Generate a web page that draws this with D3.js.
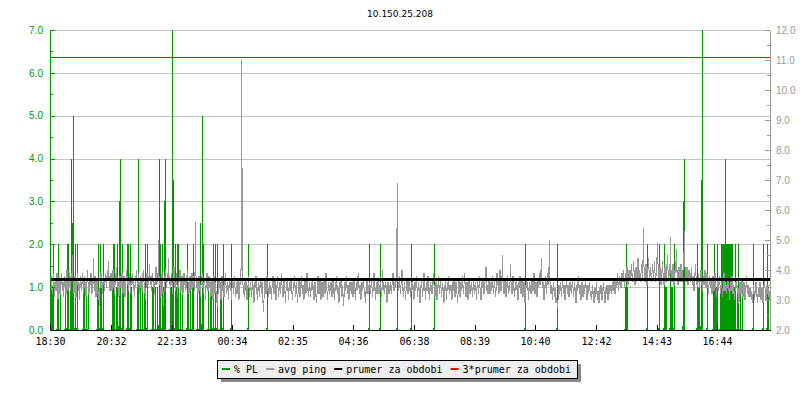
<!DOCTYPE html>
<html>
<head>
<meta charset="utf-8">
<script src="https://cdn.jsdelivr.net/npm/d3@7"></script>
<style>
  body { margin: 0; background: #fff; }
  svg { display: block; font-family: 'DejaVu Sans Mono', monospace; font-size: 10px; }
</style>
</head>
<body>
<div class="canvas"></div>
<script>
const title = '10.150.25.208';
const startTime = new Date(2020, 0, 1, 18, 30);

const timeLabels = ['18:30', '20:32', '22:33', '00:34', '02:35', '04:36',
  '06:38', '08:39', '10:40', '12:42', '14:43', '16:44'];

// avg ping (ms), one sample per minute
const pingValues = [
  3.6,3.3,3.8,3.5,3.2,3.4,3.9,3.6,3.1,3.5,3.7,3.3,3.6,3.9,3.4,3.0,3.5,3.8,3.6,3.2,
  3.4,3.7,3.9,3.5,3.3,3.6,3.1,3.4,3.8,3.5,3.7,3.2,3.5,4.0,3.6,3.3,3.7,3.4,3.9,3.5,
  3.3,3.8,3.6,3.9,4.5,3.7,3.4,3.2,3.6,3.8,3.5,3.1,3.4,3.7,3.9,3.5,3.3,3.6,3.0,3.4,
  3.8,3.6,3.3,3.5,3.9,3.7,3.2,3.5,3.8,3.4,3.6,3.1,3.3,3.7,4.0,3.6,3.4,3.2,3.7,3.5,
  3.6,3.9,3.4,3.2,3.7,3.5,4.4,3.6,3.3,3.8,3.5,3.1,3.4,3.7,3.5,3.2,3.0,3.3,2.8,3.4,
  3.6,3.9,3.7,3.4,3.2,3.6,3.8,3.5,3.3,3.7,3.9,3.6,3.4,3.8,4.0,3.7,4.3,3.8,3.5,3.3,
  3.6,3.9,3.5,3.3,3.7,4.0,3.8,3.4,3.2,3.6,3.5,3.9,4.1,3.7,3.4,3.6,3.3,3.1,3.5,3.8,
  3.6,3.4,3.7,3.9,3.5,3.2,3.6,3.8,3.4,3.1,3.3,3.7,4.0,3.8,3.5,3.6,3.3,3.7,3.9,3.5,
  3.2,3.6,3.8,3.5,3.9,3.7,3.3,3.5,3.1,3.4,3.8,3.6,4.0,3.7,3.4,3.6,3.9,3.5,3.2,3.6,
  3.8,3.4,3.7,3.3,3.5,3.9,4.0,3.6,3.4,3.2,3.0,3.4,3.7,3.9,3.6,3.5,3.8,3.6,4.2,3.7,
  3.5,3.8,3.3,3.6,3.9,3.7,3.4,3.6,3.2,3.5,3.8,4.1,3.7,3.5,3.9,3.6,5.0,3.8,3.5,3.7,
  3.4,3.1,3.6,3.9,3.5,3.2,2.8,3.3,3.6,3.8,4.0,3.6,3.4,3.7,3.9,3.6,4.4,3.8,3.5,3.7,
  3.4,3.7,3.9,3.5,3.2,3.6,3.8,4.1,3.7,3.4,3.3,3.6,3.9,3.5,3.1,3.4,3.7,3.6,3.9,4.0,
  3.6,3.3,3.5,3.8,3.4,3.2,3.6,3.9,3.7,3.5,3.3,3.7,3.4,3.8,4.0,3.6,3.5,3.2,3.6,3.8,
  3.5,3.3,3.7,3.9,3.6,3.4,3.8,3.5,3.3,3.9,5.6,3.8,3.6,3.4,3.7,3.2,3.5,3.8,3.6,3.3,
  3.1,3.5,3.8,3.6,3.9,3.4,3.2,3.6,3.7,3.5,3.0,3.4,3.7,3.9,3.5,3.3,3.6,3.8,3.4,3.6,
  3.4,3.1,3.5,3.7,3.3,3.0,3.4,3.8,3.5,3.2,3.6,3.3,2.9,3.1,2.8,3.2,3.5,3.7,3.4,3.6,
  3.3,3.0,3.4,3.8,3.6,3.3,3.5,3.1,3.4,3.7,3.9,3.5,3.2,3.4,3.6,3.3,3.0,3.5,3.7,3.4,
  3.6,3.3,3.0,3.4,3.7,3.5,3.2,3.6,3.8,3.4,3.1,3.3,3.6,3.2,3.5,3.7,3.3,3.0,3.4,3.6,
  3.5,3.8,11.0,4.0,7.4,3.5,3.2,3.4,3.1,3.6,3.3,3.7,3.4,3.0,3.2,3.5,3.8,3.4,3.1,3.3,
  3.6,3.4,3.1,3.3,3.7,3.5,3.2,2.9,3.3,3.6,3.4,3.8,3.5,3.2,3.0,3.4,3.6,3.3,3.1,3.5,
  3.7,3.4,3.2,3.6,3.3,2.9,2.6,3.0,3.4,3.7,3.5,3.2,3.4,3.8,3.6,3.3,3.1,3.4,3.6,3.2,
  3.5,3.3,3.0,3.4,3.6,3.8,3.4,3.2,3.5,3.7,3.3,3.0,3.2,3.5,3.8,3.4,3.1,3.3,3.6,3.4,
  3.2,3.6,3.9,3.5,3.3,3.1,3.4,3.7,3.5,3.2,2.9,3.3,3.6,3.4,3.7,3.3,3.0,3.4,3.6,3.3,
  3.4,3.7,3.5,3.2,3.0,3.3,3.6,3.4,3.8,3.5,3.1,3.3,3.6,3.2,2.9,3.2,3.5,3.7,3.4,3.1,
  3.3,3.6,3.8,3.4,3.2,3.5,3.3,3.0,3.4,3.7,3.5,3.2,3.6,3.9,3.5,3.3,3.1,3.4,3.6,3.3,
  3.1,3.4,3.6,3.3,3.7,3.5,3.2,3.0,3.3,3.6,3.4,3.1,2.9,3.2,3.5,3.8,3.4,3.2,3.5,3.7,
  3.3,3.0,3.4,3.6,3.3,3.1,3.4,3.7,3.5,3.2,3.6,3.9,3.5,3.3,3.0,3.3,3.6,3.4,3.2,3.5,
  3.3,3.6,3.4,3.1,3.3,3.7,3.5,3.2,3.0,3.4,3.6,3.3,3.8,3.5,3.2,3.4,3.1,2.9,3.3,3.6,
  3.4,3.7,3.3,3.1,3.5,3.2,2.8,3.1,3.4,3.6,3.3,3.5,3.8,3.4,3.2,3.5,3.3,3.0,3.4,3.6,
  3.3,3.5,3.2,3.6,3.4,3.1,3.3,3.7,3.5,3.2,3.0,3.4,3.6,3.3,3.8,3.5,3.9,3.4,3.2,3.5,
  3.3,3.0,3.4,3.6,3.3,3.5,3.7,3.4,3.1,3.3,2.9,3.2,3.5,3.7,3.4,3.2,3.5,3.3,3.6,3.4,
  3.2,3.5,3.7,3.4,3.1,3.3,3.6,3.9,3.5,3.3,3.0,3.4,3.6,3.2,3.5,3.7,3.4,3.2,3.5,3.3,
  3.6,3.4,3.1,3.3,4.0,3.6,3.3,3.5,3.2,3.4,3.7,3.5,3.1,2.9,3.3,3.6,3.4,3.2,3.5,3.3,
  3.6,3.4,3.2,3.5,3.7,3.9,3.5,3.3,3.6,3.4,3.7,3.5,5.4,3.8,6.9,3.6,3.3,3.5,3.8,3.4,
  3.2,3.5,3.7,4.0,3.6,3.3,3.1,3.4,3.6,3.3,3.0,3.3,3.5,3.7,3.4,3.2,3.5,3.7,3.4,3.3,
  3.1,3.4,3.6,3.3,3.7,3.5,3.2,3.0,3.4,3.6,3.3,3.5,3.8,3.4,3.1,3.3,3.6,3.4,3.2,2.9,
  3.2,3.5,3.7,3.4,3.1,3.3,3.6,3.9,3.5,3.3,3.0,3.4,3.6,3.3,3.5,3.8,3.4,3.2,3.0,3.4,
  3.6,3.3,3.5,3.2,3.4,3.7,3.9,3.5,3.3,3.1,3.4,3.6,3.3,3.0,3.2,3.5,3.8,3.4,3.2,3.5,
  3.7,3.4,3.1,3.3,3.6,3.4,3.2,2.9,3.3,3.5,3.7,3.3,3.0,3.4,3.6,3.3,3.8,3.5,3.2,3.4,
  3.3,3.5,3.2,3.0,3.4,3.6,3.3,3.7,3.4,3.1,3.3,3.6,3.4,3.2,2.9,3.2,3.5,3.7,3.4,3.1,
  3.4,3.6,3.3,3.5,3.8,3.4,3.2,3.5,3.9,3.6,3.3,3.1,3.4,3.6,3.3,3.0,3.4,3.7,3.5,3.2,
  3.5,3.3,3.6,3.4,3.1,3.3,3.7,3.5,3.2,3.4,3.6,3.3,3.0,3.4,3.7,3.4,3.2,3.5,3.8,3.4,
  3.2,3.0,3.3,3.6,3.4,3.7,3.5,3.2,3.4,3.6,3.9,4.1,3.6,3.3,3.5,3.2,3.4,3.7,3.4,3.2,
  3.4,3.6,3.3,3.5,3.8,3.4,3.2,3.5,3.7,3.4,3.1,3.3,3.6,3.9,3.5,3.7,3.4,3.2,3.6,4.0,
  3.6,3.3,3.5,3.8,4.5,3.7,3.4,3.2,3.5,3.7,3.4,3.1,3.3,3.6,3.8,3.4,3.2,3.5,3.3,3.6,
  4.2,3.6,3.4,3.2,3.5,3.8,3.5,3.3,3.1,3.4,3.6,3.3,3.7,3.5,3.2,3.0,3.3,3.6,3.4,3.8,
  3.5,3.2,3.4,3.7,3.4,3.1,3.3,3.6,3.3,2.9,3.2,3.5,3.7,3.4,3.6,3.3,3.0,3.4,3.6,3.3,
  3.5,3.2,3.4,3.7,3.5,3.3,3.6,3.9,3.5,3.2,3.4,3.6,3.3,3.1,3.4,3.7,3.4,3.6,3.9,3.5,
  3.7,4.0,4.4,3.7,3.4,3.6,3.3,3.0,3.2,3.5,3.8,3.4,3.2,3.6,3.9,3.5,3.7,4.1,5.0,3.6,
  3.4,3.2,3.5,3.3,3.0,3.4,3.6,3.3,3.1,3.4,3.2,2.9,3.1,3.0,2.7,3.0,3.3,3.5,3.2,3.4,
  3.6,3.3,3.1,3.4,3.7,3.4,3.2,3.5,3.3,3.0,3.2,3.5,3.7,3.4,3.2,3.5,3.3,3.1,3.4,3.6,
  3.3,3.5,3.2,3.4,3.7,3.4,3.1,3.3,3.6,3.4,3.2,2.9,3.2,3.5,3.3,3.6,3.8,3.4,3.2,3.5,
  3.3,3.0,3.3,3.6,3.4,3.1,3.3,3.5,3.2,3.4,3.7,3.5,3.2,3.0,3.3,3.5,3.2,3.4,3.6,3.3,
  3.1,3.3,3.0,3.2,3.5,3.3,3.0,2.9,3.2,3.4,3.1,3.3,3.6,3.2,3.0,3.3,3.1,2.9,3.2,3.4,
  3.2,3.5,3.3,3.0,3.2,3.4,3.6,3.3,3.1,2.9,3.1,3.4,3.2,3.5,3.3,3.0,3.3,3.5,3.2,3.4,
  3.3,3.5,3.2,3.4,3.6,3.3,3.5,3.7,3.4,3.2,3.5,3.7,3.4,3.6,3.9,3.5,3.3,3.6,3.8,3.5,
  3.7,3.4,3.6,3.9,3.6,3.8,4.0,3.6,3.4,3.7,3.9,3.6,3.8,4.1,3.7,3.5,3.8,4.0,3.7,3.9,
  3.7,4.0,4.2,3.8,3.6,3.9,4.3,4.0,3.7,3.5,3.8,4.1,3.9,3.6,4.0,4.4,3.9,3.7,4.0,3.8,
  3.6,3.9,4.2,4.0,3.7,4.3,5.4,4.1,3.8,3.6,3.9,4.2,3.8,3.5,3.8,4.1,4.4,4.0,3.7,3.9,
  4.1,3.8,3.6,3.9,4.2,3.9,3.7,4.0,4.3,3.9,3.6,3.8,4.1,4.4,4.9,4.2,3.8,3.6,3.9,4.1,
  3.8,3.5,3.7,4.0,4.3,3.9,3.7,3.5,3.8,4.1,3.9,3.6,3.8,4.2,4.5,4.0,3.7,3.9,4.2,3.8,
  5.1,4.0,3.8,3.6,3.9,4.2,3.8,3.5,3.7,4.0,4.3,3.9,4.7,4.0,3.7,3.5,3.8,4.1,3.8,3.6,
  3.9,4.2,3.9,3.6,3.8,4.0,4.3,4.6,5.3,4.1,3.8,3.6,3.9,4.1,3.7,3.5,3.8,4.0,3.7,3.9,
  3.6,3.9,4.1,3.7,3.5,3.8,3.6,3.3,3.6,3.9,4.2,3.8,3.5,3.7,3.4,3.6,3.9,3.7,3.4,3.6,
  3.8,4.0,3.7,3.5,3.3,3.6,3.8,3.5,3.7,4.0,3.6,3.4,3.6,3.9,3.7,3.4,3.2,3.5,3.8,3.6,
  3.4,3.7,3.5,3.2,3.5,3.8,3.6,3.3,3.5,3.9,3.6,3.4,3.1,3.4,3.7,3.5,3.3,3.6,3.8,3.5,
  3.2,3.4,3.7,3.4,3.1,3.3,3.6,3.9,3.5,3.3,3.6,3.4,3.2,3.5,3.7,3.4,3.6,3.3,3.0,3.4,
  3.6,3.3,3.5,3.8,3.4,3.2,3.5,3.3,3.0,3.3,3.6,3.4,3.7,3.5,3.2,3.4,3.1,2.9,3.3,3.6,
  3.4,3.2,3.5,3.7,3.4,3.1,3.3,3.6,3.3,3.0,3.2,3.5,3.8,3.4,3.2,3.5,3.3,3.1,3.4,3.2,
  3.4,3.1,3.3,3.0,2.9,3.2,3.5,3.3,3.0,3.2,3.4,3.6,3.3,3.1,2.9,3.2,3.4,3.1,3.3,3.6,
  3.3,3.0,3.2,3.4,3.1,2.9,3.2,3.5,3.7,3.4,3.2,3.0,3.3,3.5,3.2,3.4,3.1,3.3,3.0,3.2
];

// packet loss, polled every 2 minutes: [poll index, % PL]; all other polls are 0
const plEvents = [
  [1, 1], [2, 1], [3, 2], [7, 1], [8, 2], [10, 1],
  [15, 1], [17, 2], [18, 2], [20, 1], [21, 4], [22, 2.5], [23, 5], [25, 2], [27, 2],
  [33, 1], [34, 1], [36, 1], [38, 1],
  [47, 1], [48, 2], [50, 2], [51, 1], [53, 2],
  [62, 1], [63, 2], [64, 2], [66, 1], [67, 2], [69, 3], [70, 4], [72, 2], [73, 1],
  [77, 2], [78, 2], [80, 2], [81, 1],
  [87, 1], [88, 4], [90, 1], [92, 1], [94, 1], [95, 2], [97, 2],
  [102, 1], [103, 1], [105, 1], [107, 1],
  [109, 4], [110, 2], [112, 2], [113, 1], [114, 3], [115, 4],
  [120, 1], [121, 1], [122, 7], [123, 3.5], [125, 2], [126, 1], [127, 2], [128, 2], [130, 1], [132, 1],
  [137, 2], [138, 1], [140, 1], [142, 1], [143, 2],
  [147, 1], [149, 1], [150, 2.5], [152, 5], [153, 2],
  [158, 1], [160, 1], [161, 1], [163, 2], [165, 2], [167, 2],
  [170, 1], [171, 1], [173, 2],
  [181, 2], [198, 2], [217, 2],
  [319, 2], [330, 2], [347, 2], [361, 2], [384, 2], [475, 2], [507, 2],
  [575, 1], [576, 2], [577, 1], [597, 2], [609, 2],
  [614, 2], [615, 1], [616, 1], [620, 2], [621, 1], [622, 1], [624, 2],
  [633, 3], [634, 4],
  [647, 2], [648, 1], [649, 1], [651, 3.5], [652, 7], [657, 2],
  [663, 1], [664, 2], [665, 1], [666, 1], [667, 2],
  [670, 1], [671, 2], [672, 2], [673, 2], [674, 2], [675, 4], [676, 2], [677, 2], [678, 2],
  [679, 2], [680, 2], [681, 2], [682, 2], [683, 1], [684, 1], [685, 2],
  [687, 1], [688, 2], [690, 1], [692, 1],
  [703, 2], [713, 2], [717, 2], [718, 1]
];
const plPollMinutes = 2;

const avgPing = 3.69;
const legendNames = ['% PL', 'avg ping', 'prumer za obdobi', '3*prumer za obdobi'];

const colors = { pl: '#009900', ping: '#999999', avg: '#000000', avg3: '#ff0000', grid: '#c4c4c4' };
const legendColors = [colors.pl, colors.ping, colors.avg, colors.avg3];
const plot = { left: 50, right: 770, top: 30, bottom: 330 };

const svg = d3
  .select('.canvas')
  .append('svg')
  .attr('width', 800)
  .attr('height', 400);

const totalMinutes = pingValues.length;
const x = d3
  .scaleTime()
  .domain([startTime, d3.timeMinute.offset(startTime, totalMinutes)])
  .range([plot.left, plot.right]);
const yPL = d3.scaleLinear().domain([0, 7]).range([plot.bottom, plot.top]);
const yPing = d3.scaleLinear().domain([2, 12]).range([plot.bottom, plot.top]);

const labelDate = s => {
  const [h, m] = s.split(':').map(Number);
  const d = new Date(startTime);
  d.setHours(h, m, 0, 0);
  if (d < startTime) d.setDate(d.getDate() + 1);
  return d;
};
const tickDates = timeLabels.map(labelDate);

// title
svg
  .append('text')
  .attr('x', 400)
  .attr('y', 17)
  .attr('text-anchor', 'middle')
  .style('font-family', "'DejaVu Sans', sans-serif")
  .style('font-size', '9px')
  .text(title);

// grid
svg
  .append('g')
  .selectAll('line')
  .data(d3.range(1, 8))
  .join('line')
  .attr('x1', plot.left)
  .attr('x2', plot.right)
  .attr('y1', d => Math.round(yPL(d)) + 0.5)
  .attr('y2', d => Math.round(yPL(d)) + 0.5)
  .attr('stroke', colors.grid)
  .attr('shape-rendering', 'crispEdges');

// packet loss on the same 1 minute grid as ping
const plSeries = d3.range(totalMinutes + 1).map(() => 0);
plEvents.forEach(([i, v]) => (plSeries[i * plPollMinutes] = v));

const px = m => x(d3.timeMinute.offset(startTime, m)) + 0.5;

svg
  .append('path')
  .datum(plSeries)
  .attr('fill', 'none')
  .attr('stroke', colors.pl)
  .attr('stroke-width', 1)
  .attr('shape-rendering', 'crispEdges')
  .attr('d', d3.line().x((d, m) => px(m)).y(d => yPL(d)));

svg
  .append('path')
  .datum(pingValues)
  .attr('fill', 'none')
  .attr('stroke', colors.ping)
  .attr('stroke-width', 1)
  .attr('shape-rendering', 'crispEdges')
  .attr('d', d3.line().x((d, m) => px(m)).y(d => yPing(d)));

// average lines
svg
  .append('line')
  .attr('x1', plot.left)
  .attr('x2', plot.right)
  .attr('y1', yPing(avgPing))
  .attr('y2', yPing(avgPing))
  .attr('stroke', colors.avg)
  .attr('stroke-width', 3)
  .attr('shape-rendering', 'crispEdges');

svg
  .append('line')
  .attr('x1', plot.left)
  .attr('x2', plot.right)
  .attr('y1', Math.floor(yPing(3 * avgPing)) + 0.5)
  .attr('y2', Math.floor(yPing(3 * avgPing)) + 0.5)
  .attr('stroke', colors.avg3)
  .attr('shape-rendering', 'crispEdges');

// axes
const fmt = d3.format('.1f');
const styleAxis = (g, color) => {
  g.selectAll('path, line').attr('stroke', color).attr('shape-rendering', 'crispEdges');
  g.selectAll('text').attr('fill', color);
  g.attr('font-family', "'DejaVu Sans Mono', monospace").attr('font-size', 10);
};

const leftAxis = svg.append('g').attr('transform', `translate(${plot.left},0)`);
leftAxis.call(d3.axisLeft(yPL).tickValues(d3.range(0.5, 7, 1)).tickSize(-3).tickSizeOuter(0).tickFormat(''));
leftAxis.call(g => g.select('.domain').remove());
leftAxis
  .append('g')
  .call(d3.axisLeft(yPL).tickValues(d3.range(0, 8)).tickSize(-5).tickSizeOuter(0).tickPadding(7).tickFormat(fmt));
styleAxis(leftAxis, colors.pl);

const rightAxis = svg.append('g').attr('transform', `translate(${plot.right},0)`);
rightAxis.call(d3.axisRight(yPing).tickValues(d3.range(2.5, 12, 1)).tickSize(-3).tickSizeOuter(0).tickFormat(''));
rightAxis.call(g => g.select('.domain').remove());
rightAxis
  .append('g')
  .call(d3.axisRight(yPing).tickValues(d3.range(2, 13)).tickSize(-5).tickSizeOuter(0).tickPadding(6).tickFormat(fmt));
styleAxis(rightAxis, colors.ping);

const bottomAxis = svg
  .append('g')
  .attr('transform', `translate(0,${plot.bottom})`)
  .call(
    d3.axisBottom(x).tickValues(tickDates).tickSize(-5).tickSizeOuter(0).tickPadding(8).tickFormat(d3.timeFormat('%H:%M'))
  );
styleAxis(bottomAxis, '#000');

// legend
const legendGroup = svg.append('g');
const legendBox = legendGroup.append('g');
const items = legendGroup.append('g');
const markerW = 8;
const textOffset = 12;
const itemGap = 8;
let cursor = 0;
legendNames.forEach((name, k) => {
  const item = items.append('g').attr('transform', `translate(${cursor},0)`);
  item.append('rect').attr('x', 0).attr('y', -1).attr('width', markerW).attr('height', 2).attr('fill', legendColors[k]);
  const t = item
    .append('text')
    .attr('x', textOffset)
    .attr('y', 4)
    .attr('font-family', "'DejaVu Sans Mono', monospace")
    .attr('font-size', 10)
    .text(name);
  cursor += textOffset + t.node().getComputedTextLength() + itemGap;
});
const boxW = Math.round(cursor - itemGap + 11);
const boxX = Math.round(397 - boxW / 2);
items.attr('transform', `translate(${boxX + 5},369)`);
legendBox
  .append('rect')
  .attr('x', boxX + 4)
  .attr('y', 364)
  .attr('width', boxW)
  .attr('height', 18)
  .attr('fill', '#888');
legendBox
  .append('rect')
  .attr('x', boxX + 0.5)
  .attr('y', 360.5)
  .attr('width', boxW)
  .attr('height', 18)
  .attr('fill', '#eeeeee')
  .attr('stroke', '#000')
  .attr('shape-rendering', 'crispEdges');
</script>
</body>
</html>
